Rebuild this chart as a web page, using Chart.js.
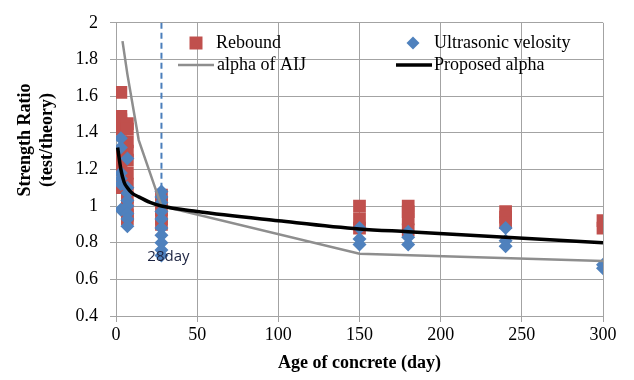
<!DOCTYPE html>
<html>
<head>
<meta charset="utf-8">
<script src="https://cdn.jsdelivr.net/npm/chart.js@4/dist/chart.umd.min.js"></script>
<style>
  html, body { margin: 0; padding: 0; background: #fff; }
  #wrap { width: 634px; height: 380px; }
</style>
</head>
<body>
<div id="wrap"><canvas id="strengthChart"></canvas></div>
<script>
// measured strength ratios by age (days)
const reboundDays   = [3, 3, 3, 3, 3, 3, 3, 3, 3,
                       7, 7, 7, 7, 7, 7, 7, 7, 7, 7, 7,
                       28, 28, 28, 28, 28,
                       150, 150, 150, 180, 180, 180, 180, 240, 240, 240, 300, 300];
const reboundRatio  = [1.62, 1.49, 1.47, 1.45, 1.42, 1.28, 1.24, 1.20, 1.10,
                       1.45, 1.42, 1.35, 1.30, 1.25, 1.18, 1.12, 1.05, 1.00, 0.95, 0.93,
                       1.06, 1.02, 0.98, 0.93, 0.90,
                       1.00, 0.93, 0.88, 1.00, 0.97, 0.93, 0.87, 0.97, 0.94, 0.91, 0.92, 0.88];

const ultraDays     = [3, 3, 3, 3, 3, 3,
                       7, 7, 7, 7, 7, 7, 7, 7,
                       28, 28, 28, 28, 28, 28, 28, 28, 28, 28,
                       150, 150, 150, 180, 180, 180, 240, 240, 240, 300, 300];
const ultraRatio    = [1.37, 1.32, 1.18, 1.15, 1.12, 0.98,
                       1.26, 1.10, 1.07, 1.03, 1.00, 0.96, 0.93, 0.89,
                       1.08, 1.05, 1.02, 0.97, 0.93, 0.88, 0.84, 0.80, 0.76, 0.73,
                       0.88, 0.82, 0.79, 0.86, 0.83, 0.79, 0.88, 0.81, 0.78, 0.68, 0.66];

// age coefficients
const aijDays       = [4, 7, 14, 28, 150, 300];
const aijAlpha      = [1.90, 1.72, 1.36, 1.00, 0.74, 0.70];
const proposedDays  = [1, 3, 5, 7, 10, 14, 21, 28, 50, 100, 150, 180, 240, 300];
const proposedAlpha = [1.32, 1.20, 1.13, 1.10, 1.07, 1.05, 1.02, 1.00, 0.97, 0.92, 0.875, 0.86, 0.83, 0.80];

// 28-day reference marker
const refDays  = [28, 28];
const refRatio = [2.0, 0.8];

const xTicks = [0, 50, 100, 150, 200, 250, 300];
const yTicks = [0.4, 0.6, 0.8, 1, 1.2, 1.4, 1.6, 1.8, 2];

const zip = (xs, ys) => xs.map((x, i) => ({ x, y: ys[i] }));

const serif = "'Liberation Serif', 'Times New Roman', serif";
const gridColor = '#a3a3a3';

const extrasPlugin = {
  id: 'extras',
  afterDraw(chart) {
    const ctx = chart.ctx;
    const ds = chart.data.datasets;
    const xs = chart.scales.x;

    ctx.save();

    // y axis title, two lines
    ctx.fillStyle = '#000';
    ctx.font = `bold 18px ${serif}`;
    ctx.textAlign = 'center';
    ctx.textBaseline = 'middle';
    [['Strength Ratio', 25], ['(test/theory)', 47]].forEach(([t, x]) => {
      ctx.save();
      ctx.translate(x, 140);
      ctx.rotate(-Math.PI / 2);
      ctx.fillText(t, 0, 0);
      ctx.restore();
    });

    // label under the 28-day line
    ctx.font = "15px 'Open Sans', sans-serif";
    ctx.fillStyle = '#1c2340';
    ctx.fillText('28day', xs.getPixelForValue(28) + 7, 257);

    // legend
    ctx.font = `18px ${serif}`;
    ctx.textAlign = 'left';
    const items = [
      { i: 3, x: 196, y: 43, tx: 216 },
      { i: 2, x: 413, y: 43, tx: 434 },
      { i: 1, x: 196, y: 65, tx: 217 },
      { i: 0, x: 414, y: 65, tx: 434 }
    ];
    items.forEach(it => {
      const d = ds[it.i];
      if (d.showLine) {
        ctx.strokeStyle = d.borderColor;
        ctx.lineWidth = d.borderWidth;
        ctx.beginPath();
        ctx.moveTo(it.x - 18, it.y);
        ctx.lineTo(it.x + 18, it.y);
        ctx.stroke();
      } else {
        ctx.fillStyle = d.backgroundColor;
        ctx.beginPath();
        if (d.pointStyle === 'rect') {
          ctx.rect(it.x - 6.5, it.y - 6.5, 13, 13);
        } else {
          ctx.moveTo(it.x, it.y - 6.5);
          ctx.lineTo(it.x + 6.5, it.y);
          ctx.lineTo(it.x, it.y + 6.5);
          ctx.lineTo(it.x - 6.5, it.y);
          ctx.closePath();
        }
        ctx.fill();
      }
      ctx.fillStyle = '#000';
      ctx.fillText(d.label, it.tx, it.y);
    });

    ctx.restore();
  }
};

new Chart(document.getElementById('strengthChart'), {
  type: 'scatter',
  data: {
    datasets: [
      {
        label: 'Proposed alpha',
        data: zip(proposedDays, proposedAlpha),
        showLine: true,
        borderColor: '#000',
        borderWidth: 3.5,
        pointRadius: 0,
        cubicInterpolationMode: 'monotone'
      },
      {
        label: 'alpha of AIJ',
        data: zip(aijDays, aijAlpha),
        showLine: true,
        borderColor: '#8e8e8e',
        borderWidth: 2.5,
        pointRadius: 0,
        tension: 0
      },
      {
        label: 'Ultrasonic velosity',
        data: zip(ultraDays, ultraRatio),
        pointStyle: 'rectRot',
        pointRadius: 7,
        backgroundColor: '#4f81bd',
        borderColor: '#4f81bd',
        borderWidth: 0
      },
      {
        label: 'Rebound',
        data: zip(reboundDays, reboundRatio),
        pointStyle: 'rect',
        pointRadius: 9,
        backgroundColor: '#c0504d',
        borderColor: '#c0504d',
        borderWidth: 0
      },
      {
        label: '28day',
        data: zip(refDays, refRatio),
        showLine: true,
        borderColor: '#4a7ebb',
        borderWidth: 2,
        borderDash: [6, 4],
        pointRadius: 0
      }
    ]
  },
  options: {
    responsive: true,
    maintainAspectRatio: false,
    animation: false,
    layout: { padding: { left: 0, top: 19, right: 31, bottom: 4 } },
    plugins: {
      legend: { display: false },
      tooltip: { enabled: false }
    },
    scales: {
      x: {
        type: 'linear',
        min: 0,
        max: 300,
        afterBuildTicks: s => { s.ticks = xTicks.map(v => ({ value: v })); },
        afterFit: s => { s.height = 60; },
        ticks: { color: '#000', font: { family: serif, size: 18 }, padding: 2, maxRotation: 0 },
        grid: { color: gridColor, tickLength: 6 },
        border: { color: gridColor },
        title: {
          display: true,
          text: 'Age of concrete (day)',
          color: '#000',
          font: { family: serif, size: 18, weight: 'bold' },
          padding: { top: 0, bottom: 2 }
        }
      },
      y: {
        type: 'linear',
        min: 0.4,
        max: 2,
        afterBuildTicks: s => { s.ticks = yTicks.map(v => ({ value: v })); },
        afterFit: s => { s.width = 116; },
        ticks: {
          color: '#000',
          font: { family: serif, size: 18 },
          padding: 12,
          callback: v => String(Math.round(v * 10) / 10)
        },
        grid: { color: gridColor, tickLength: 6 },
        border: { color: gridColor }
      }
    }
  },
  plugins: [extrasPlugin]
});
</script>
</body>
</html>
